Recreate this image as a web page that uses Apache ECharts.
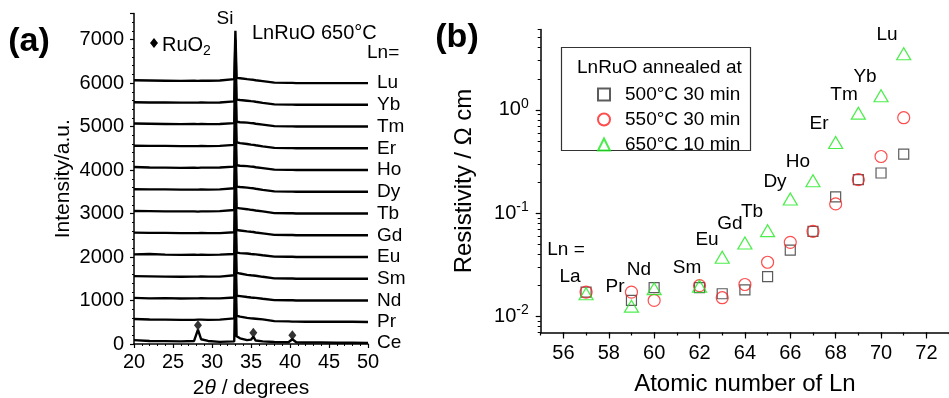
<!DOCTYPE html>
<html>
<head>
<meta charset="utf-8">
<script src="https://cdn.jsdelivr.net/npm/echarts@6/dist/echarts.min.js"></script>
<style>
  html, body { margin: 0; padding: 0; background: #fff; }
  #chart { width: 949px; height: 398px; }
</style>
</head>
<body>
<div id="chart"></div>
<script>
// ---- (a) XRD patterns, offset by Ln ----
const twoTheta = [20, 22, 24, 26, 27.7, 28.2, 28.6, 29.5, 31, 32.85, 33.0, 33.15, 33.6, 34.5, 35.0, 35.3, 35.6, 36.5, 38, 39.8, 40.3, 40.8, 42, 44, 46, 48, 50]
const xrdNames = ['Ce', 'Pr', 'Nd', 'Sm', 'Eu', 'Gd', 'Tb', 'Dy', 'Ho', 'Er', 'Tm', 'Yb', 'Lu']
const xrdCe = [90, 70, 65, 60, 70, 330, 110, 70, 50, 60, 1500, 180, 130, 90, 100, 170, 80, 60, 45, 40, 110, 40, 35, 35, 30, 30, 25]
const xrdPr = [575, 565, 560, 555, 555, 560, 560, 555, 560, 590, 2000, 650, 630, 600, 590, 585, 580, 565, 525, 520, 515, 515, 510, 510, 510, 510, 505]
const xrdNd = [1060, 1050, 1055, 1045, 1050, 1050, 1055, 1050, 1050, 1070, 2500, 1110, 1100, 1080, 1070, 1065, 1060, 1040, 1010, 1005, 1005, 1000, 1000, 1000, 1000, 1000, 1000]
const xrdSm = [1560, 1555, 1550, 1545, 1550, 1550, 1555, 1550, 1550, 1580, 3000, 1640, 1620, 1590, 1580, 1575, 1570, 1545, 1510, 1505, 1505, 1500, 1500, 1500, 1500, 1500, 1500]
const xrdEu = [2060, 2070, 2055, 2050, 2055, 2050, 2055, 2050, 2055, 2070, 3500, 2100, 2090, 2080, 2070, 2065, 2060, 2040, 2010, 2005, 2005, 2000, 2000, 2000, 2000, 2000, 2000]
const xrdGd = [2560, 2555, 2555, 2550, 2550, 2550, 2555, 2550, 2550, 2570, 4000, 2620, 2610, 2590, 2580, 2575, 2565, 2545, 2510, 2505, 2505, 2500, 2500, 2500, 2500, 2500, 2500]
const xrdTb = [3060, 3055, 3050, 3050, 3050, 3045, 3050, 3050, 3055, 3080, 4500, 3130, 3120, 3100, 3085, 3080, 3070, 3050, 3010, 3005, 3005, 3000, 3000, 3000, 3000, 3000, 3000]
const xrdDy = [3560, 3555, 3555, 3550, 3550, 3550, 3555, 3550, 3555, 3580, 5000, 3620, 3610, 3595, 3585, 3580, 3570, 3545, 3510, 3505, 3505, 3500, 3500, 3500, 3500, 3500, 3500]
const xrdHo = [4070, 4060, 4055, 4050, 4055, 4050, 4055, 4055, 4060, 4080, 5500, 4110, 4100, 4090, 4080, 4075, 4065, 4045, 4010, 4005, 4005, 4000, 4000, 4000, 4000, 4000, 4000]
const xrdEr = [4560, 4555, 4555, 4550, 4550, 4550, 4555, 4550, 4555, 4580, 6000, 4640, 4620, 4600, 4585, 4580, 4570, 4545, 4510, 4505, 4505, 4500, 4500, 4500, 4500, 4500, 4500]
const xrdTm = [5070, 5065, 5060, 5055, 5060, 5055, 5060, 5055, 5060, 5080, 6500, 5110, 5100, 5090, 5080, 5075, 5065, 5045, 5010, 5005, 5005, 5000, 5000, 5000, 5000, 5000, 5000]
const xrdYb = [5560, 5555, 5555, 5550, 5550, 5550, 5555, 5550, 5555, 5580, 7000, 5620, 5610, 5595, 5585, 5580, 5570, 5545, 5510, 5505, 5505, 5500, 5500, 5500, 5500, 5500, 5500]
const xrdLu = [6065, 6060, 6055, 6050, 6055, 6050, 6055, 6055, 6060, 6090, 7200, 6120, 6110, 6090, 6080, 6075, 6065, 6045, 6010, 6005, 6005, 6000, 6000, 6000, 6000, 6000, 6000]
const xrdTraces = [xrdCe, xrdPr, xrdNd, xrdSm, xrdEu, xrdGd, xrdTb, xrdDy, xrdHo, xrdEr, xrdTm, xrdYb, xrdLu]
const ruo2Marks = [[28.2, 430], [35.3, 260], [40.3, 200]]

// ---- (b) resistivity vs atomic number ----
const atomicNumber = [57, 59, 60, 62, 63, 64, 65, 66, 67, 68, 69, 70, 71]
const lnNames = ['La', 'Pr', 'Nd', 'Sm', 'Eu', 'Gd', 'Tb', 'Dy', 'Ho', 'Er', 'Tm', 'Yb', 'Lu']
const rho500 = [0.0172, 0.0143, 0.019, 0.019, 0.0166, 0.0181, 0.0243, 0.044, 0.0667, 0.144, 0.211, 0.245, 0.373]
const rho550 = [0.0172, 0.0172, 0.0143, 0.0199, 0.0152, 0.0204, 0.0335, 0.0522, 0.0667, 0.123, 0.211, 0.354, 0.84]
const rho650 = [0.0166, 0.0126, 0.0186, 0.0196, 0.0374, 0.0515, 0.0678, 0.137, 0.206, 0.483, 0.93, 1.37, 3.5]
const seriesNames = ['500°C 30 min', '550°C 30 min', '650°C 10 min']
const zMajorTicks = [56, 58, 60, 62, 64, 66, 68, 70, 72]
const rhoMajorTicks = [0.01, 0.1, 1]
const rhoMinorTicks = [0.007, 0.008, 0.009, 0.02, 0.03, 0.04, 0.05, 0.06, 0.07, 0.08, 0.09,
  0.2, 0.3, 0.4, 0.5, 0.6, 0.7, 0.8, 0.9, 2, 3, 4, 5, 6]

// pixel spots of the element names in (b)
const lnLabelPos = [[570, 277], [615, 287], [639, 270], [687, 268], [707, 240], [730, 224], [752, 212],
  [775, 182], [798, 162], [819, 124], [844, 95], [865, 77], [887, 35]]

const FONT = 'Liberation Sans, Arial, sans-serif'
const INK = '#000'

const chart = echarts.init(document.getElementById('chart'))

const axisBase = (size) => ({
  axisLine: { lineStyle: { color: INK, width: 1.5 } },
  axisTick: { length: 4, lineStyle: { color: INK, width: 1.2 } },
  axisLabel: { color: INK, fontSize: size, fontFamily: FONT },
  splitLine: { show: false },
  nameTextStyle: { color: INK, fontFamily: FONT },
})

const xrdSeries = xrdTraces.map((vals, i) => ({
  type: 'line',
  name: xrdNames[i],
  xAxisIndex: 0,
  yAxisIndex: 0,
  showSymbol: false,
  symbol: 'none',
  data: twoTheta.map((t, j) => [t, vals[j]]),
  lineStyle: { color: INK, width: 2.4 },
  endLabel: { show: true, formatter: '{a}', distance: 9, fontSize: 19, fontFamily: FONT, color: INK },
  emphasis: { disabled: true },
}))

const markerStyle = (color) => ({ color: 'transparent', borderColor: color, borderWidth: 1.2 })

const rhoSeries = [
  { name: seriesNames[0], data: rho500, symbol: 'rect', symbolSize: 10, color: '#333333' },
  { name: seriesNames[1], data: rho550, symbol: 'circle', symbolSize: 12, color: '#ff2020' },
  { name: seriesNames[2], data: rho650, symbol: 'triangle', symbolSize: [14, 12], color: '#1ee81e' },
].map(s => ({
  type: 'scatter',
  name: s.name,
  xAxisIndex: 1,
  yAxisIndex: 1,
  symbol: s.symbol,
  symbolSize: s.symbolSize,
  itemStyle: markerStyle(s.color),
  data: atomicNumber.map((z, i) => [z, s.data[i]]),
  emphasis: { disabled: true },
}))

const text = (x, y, str, size, extra) => ({
  type: 'text', x, y,
  style: Object.assign({ text: str, fontSize: size, fontFamily: FONT, fill: INK, align: 'center', verticalAlign: 'middle' }, extra || {}),
})

const option = {
  animation: false,
  backgroundColor: '#fff',
  grid: [
    { left: 134, top: 13.5, width: 234, height: 330.5, outerBoundsMode: 'none' },
    { left: 540.7, top: 29.5, width: 408.4, height: 303, outerBoundsMode: 'none' },
  ],
  xAxis: [
    {
      ...axisBase(20), type: 'value', gridIndex: 0, min: 20, max: 50, interval: 5,
      axisLabel: { color: INK, fontSize: 20, fontFamily: FONT, margin: 8 },
      minorTick: { show: true, splitNumber: 5, length: 2, lineStyle: { color: INK, width: 1 } },
      name: '2{i|θ} / degrees', nameLocation: 'middle', nameGap: 34,
      nameTextStyle: { color: INK, fontFamily: FONT, fontSize: 21, rich: { i: { fontStyle: 'italic', fontSize: 21, fontFamily: FONT } } },
    },
    {
      ...axisBase(20), type: 'value', gridIndex: 1, position: 'bottom', min: 55, max: 73, interval: 1,
      axisTick: { length: 3, lineStyle: { color: INK, width: 1.2 } },
      axisLabel: {
        color: INK, fontSize: 20, fontFamily: FONT, margin: 11,
        formatter: v => (zMajorTicks.includes(v) ? String(v) : ''),
      },
      name: 'Atomic number of Ln', nameLocation: 'middle', nameGap: 40,
      nameTextStyle: { color: INK, fontFamily: FONT, fontSize: 24 },
    },
    {
      type: 'value', gridIndex: 1, position: 'bottom', min: 55, max: 73, interval: 1,
      axisLine: { show: false }, axisLabel: { show: false }, splitLine: { show: false },
      axisTick: { customValues: zMajorTicks, length: 6, lineStyle: { color: INK, width: 1.2 } },
    },
  ],
  yAxis: [
    {
      ...axisBase(20), type: 'value', gridIndex: 0, min: 0, max: 7600, interval: 1000,
      axisLabel: { color: INK, fontSize: 20, fontFamily: FONT, margin: 10, showMaxLabel: false, formatter: v => String(v) },
      minorTick: { show: true, splitNumber: 5, length: 2, lineStyle: { color: INK, width: 1 } },
      name: 'Intensity/a.u.', nameLocation: 'middle', nameGap: 60,
      nameTextStyle: { color: INK, fontFamily: FONT, fontSize: 21 },
    },
    {
      ...axisBase(20), type: 'log', logBase: 10, gridIndex: 1, min: 0.007, max: 6,
      axisTick: { customValues: rhoMajorTicks, length: 5, lineStyle: { color: INK, width: 1.2 } },
      axisLabel: {
        customValues: rhoMajorTicks, color: INK, fontSize: 20, fontFamily: FONT, margin: 12,
        formatter: v => '10{s|' + Math.round(Math.log10(v)) + '}',
        rich: { s: { fontSize: 14, fontFamily: FONT, color: INK, padding: [0, 0, 12, 0] } },
      },
      name: 'Resistivity / Ω cm', nameLocation: 'middle', nameGap: 64,
      nameTextStyle: { color: INK, fontFamily: FONT, fontSize: 24 },
    },
    {
      type: 'log', logBase: 10, gridIndex: 1, position: 'left', min: 0.007, max: 6,
      axisLine: { show: false }, axisLabel: { show: false }, splitLine: { show: false },
      axisTick: { customValues: rhoMinorTicks, length: 3, lineStyle: { color: INK, width: 1 } },
    },
  ],
  legend: {
    data: seriesNames,
    orient: 'vertical',
    left: 592,
    top: 80,
    itemWidth: 12,
    itemHeight: 12,
    itemGap: 6,
    selectedMode: false,
    textStyle: { color: INK, fontSize: 19, fontFamily: FONT, padding: [0, 0, 0, 10] },
  },
  series: [
    ...xrdSeries,
    {
      type: 'scatter', name: 'RuO2', xAxisIndex: 0, yAxisIndex: 0,
      symbol: 'diamond', symbolSize: [8, 10], itemStyle: { color: INK },
      data: ruo2Marks, emphasis: { disabled: true },
    },
    ...rhoSeries,
  ],
  graphic: [
    text(29, 42, '(a)', 34, { fontWeight: 'bold' }),
    text(457, 38, '(b)', 34, { fontWeight: 'bold' }),
    text(225, 19, 'Si', 19),
    text(252, 33, 'LnRuO 650°C', 20, { align: 'left' }),
    text(367, 53, 'Ln=', 19, { align: 'left' }),
    { type: 'polygon', shape: { points: [[154, 38], [158, 43], [154, 48], [150, 43]] }, style: { fill: INK } },
    text(162, 45, '{a|RuO}{b|2}', 20, {
      align: 'left',
      rich: { a: { fontSize: 20, fontFamily: FONT, fill: INK }, b: { fontSize: 14, fontFamily: FONT, fill: INK, padding: [12, 0, 0, 0] } },
    }),
    { type: 'rect', shape: { x: 561.5, y: 47.5, width: 189, height: 103 }, style: { fill: 'none', stroke: '#333', lineWidth: 1.2 } },
    text(577, 68, 'LnRuO annealed at', 19, { align: 'left' }),
    text(566, 250, 'Ln =', 19),
    ...lnNames.map((n, i) => text(lnLabelPos[i][0], lnLabelPos[i][1], n, 19)),
  ],
}

chart.setOption(option)
</script>
</body>
</html>
